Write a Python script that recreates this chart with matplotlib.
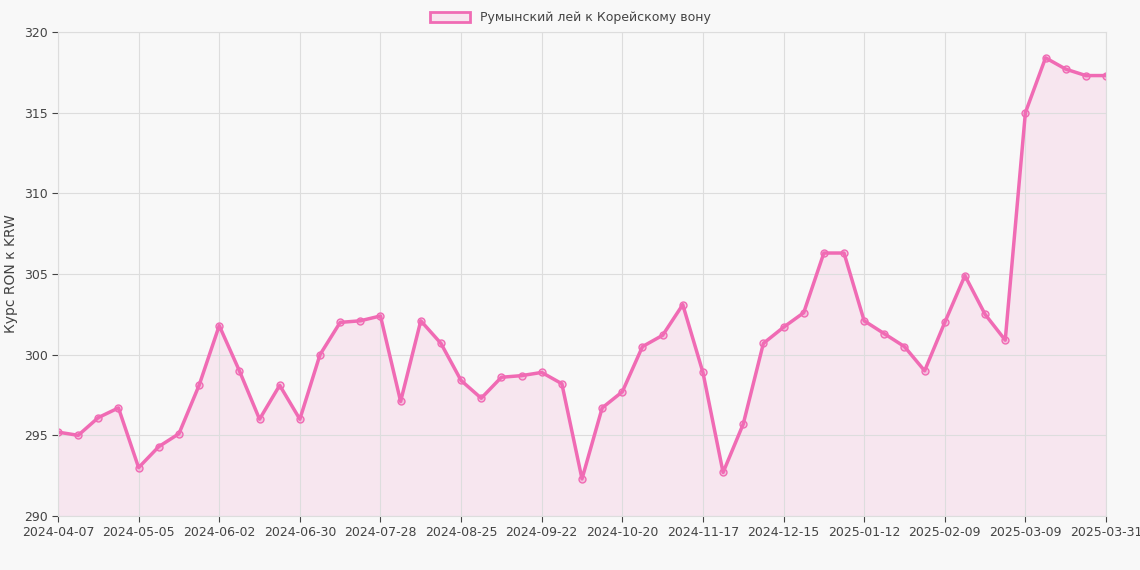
import matplotlib.pyplot as plt
from matplotlib.patches import Patch

tick_labels = ['2024-04-07', '2024-05-05', '2024-06-02', '2024-06-30', '2024-07-28',
               '2024-08-25', '2024-09-22', '2024-10-20', '2024-11-17', '2024-12-15',
               '2025-01-12', '2025-02-09', '2025-03-09', '2025-03-31']
tick_idx = [0, 4, 8, 12, 16, 20, 24, 28, 32, 36, 40, 44, 48, 52]

rates = [295.2, 295.0, 296.1, 296.7, 293.0, 294.3, 295.1, 298.1, 301.8, 299.0,
         296.0, 298.1, 296.0, 300.0, 302.0, 302.1, 302.4, 297.1, 302.1, 300.7,
         298.4, 297.3, 298.6, 298.7, 298.9, 298.2, 292.3, 296.7, 297.7, 300.5,
         301.2, 303.1, 298.9, 292.7, 295.7, 300.7, 301.7, 302.6, 306.3, 306.3,
         302.1, 301.3, 300.5, 299.0, 302.0, 304.9, 302.5, 300.9, 315.0, 318.4,
         317.7, 317.3, 317.3]

line_c = '#f06bb4'
bg = '#f8f8f8'

fig = plt.figure(figsize=(11.4, 5.7), dpi=100, facecolor=bg)
ax = fig.add_axes([58/1140, 1 - 516/570, (1106-58)/1140, (516-32)/570])
ax.set_facecolor(bg)

x = list(range(len(rates)))
ax.fill_between(x, rates, 290, color=line_c, alpha=0.12, lw=0)
ax.plot(x, rates, color=line_c, lw=2.5, marker='o', ms=5,
        mfc=(0.94, 0.42, 0.71, 0.3), mec=line_c, mew=1)

ax.set_xlim(0, len(rates) - 1)
ax.set_ylim(290, 320)
ax.set_yticks(range(290, 321, 5))
ax.set_xticks(tick_idx)
ax.set_xticklabels(tick_labels)
ax.set_xticks(range(len(rates)), minor=True)
ax.grid(True, which='major', color='#dddddd', lw=0.8)
ax.tick_params(colors='#444444', labelsize=9, length=4)
ax.tick_params(which='minor', length=0)
for s in ax.spines.values():
    s.set_color('#dddddd')
ax.set_ylabel('Курс RON к KRW', color='#444444', fontsize=10)

fig.legend(handles=[Patch(facecolor=(0.94, 0.42, 0.71, 0.12), edgecolor=line_c, lw=2,
                          label='Румынский лей к Корейскому вону')],
           loc='upper center', bbox_to_anchor=(0.5, 1.0), frameon=False,
           fontsize=9, labelcolor='#444444', handlelength=3.2, handleheight=0.9)

fig.savefig('out.png', dpi=100, facecolor=bg)
